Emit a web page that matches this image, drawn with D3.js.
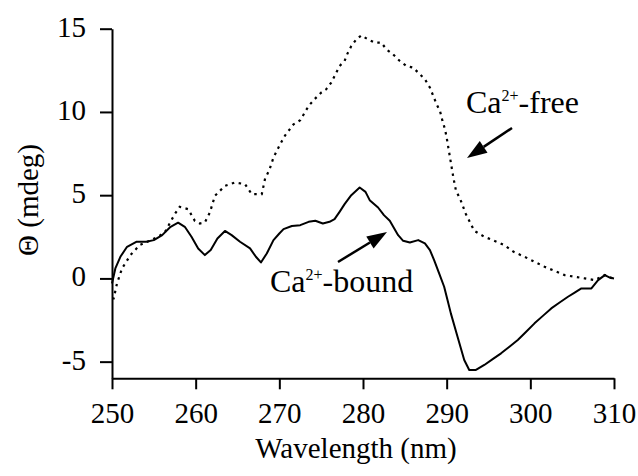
<!DOCTYPE html>
<html>
<head>
<meta charset="utf-8">
<script src="https://cdn.jsdelivr.net/npm/d3@7"></script>
</head>
<body style="margin:0; background:#fff">
<div id="my_dataviz"></div>
<script>
// CD spectra (wavelength nm, theta mdeg)
var boundNm  = [250.0, 250.4, 251.0, 251.8, 252.9, 254.1, 255.0, 256.0, 257.0, 257.9, 258.7, 259.5, 260.3, 261.1,
                261.8, 262.6, 263.5, 264.3, 265.3, 266.5, 267.2, 267.8, 268.5, 269.3, 270.0, 270.5, 271.5, 272.5,
                273.5, 274.3, 275.2, 276.0, 276.6, 277.2, 277.8, 278.6, 279.6, 280.3, 280.8, 281.8, 282.5, 283.2,
                284.2, 284.8, 285.6, 286.6, 287.4, 288.0, 288.5, 289.1, 289.7, 290.1, 290.5, 291.3, 292.1, 292.7,
                293.5, 294.5, 295.5, 296.5, 297.5, 298.5, 299.5, 300.5, 301.5, 302.5, 303.5, 304.5, 305.3, 306.1,
                307.3, 308.1, 308.9, 309.5, 310.0];
var boundVal = [-0.3, 0.6, 1.3, 1.9, 2.2, 2.2, 2.3, 2.6, 3.1, 3.35, 3.1, 2.5, 1.8, 1.4,
                1.7, 2.4, 2.85, 2.6, 2.2, 1.8, 1.3, 0.96, 1.5, 2.3, 2.7, 2.96, 3.15, 3.2,
                3.4, 3.46, 3.3, 3.4, 3.56, 4.0, 4.46, 5.0, 5.46, 5.2, 4.7, 4.26, 3.8, 3.46,
                2.6, 2.26, 2.16, 2.3, 2.1, 1.7, 1.1, 0.3, -0.5, -1.3, -2.1, -3.5, -4.9, -5.5,
                -5.5, -5.2, -4.85, -4.5, -4.1, -3.7, -3.2, -2.7, -2.25, -1.8, -1.45, -1.1, -0.85, -0.6,
                -0.6, -0.1, 0.2, 0.05, 0.0];

var freeNm  = [250.0, 250.2, 250.6, 251.2, 252.2, 253.3, 254.5, 255.5, 256.3, 257.0, 257.5, 258.1, 259.1, 259.9,
               260.5, 261.1, 261.7, 262.3, 263.5, 264.7, 265.9, 266.7, 267.9, 268.3, 268.8, 269.3, 270.1, 270.7,
               271.7, 272.5, 273.5, 274.2, 275.0, 275.6, 276.2, 276.8, 277.2, 277.8, 278.1, 278.6, 279.2, 279.8,
               280.6, 281.4, 282.2, 282.8, 283.6, 284.4, 285.2, 286.0, 286.8, 287.4, 288.0, 288.4, 288.8, 289.2,
               289.5, 289.8, 290.0, 290.2, 290.4, 290.6, 290.8, 291.1, 291.7, 292.3, 293.3, 294.5, 295.5, 296.9,
               298.0, 299.3, 300.5, 301.7, 302.9, 304.1, 305.3, 306.5, 307.7, 308.3, 308.9, 309.5, 310.0];
var freeVal = [-1.2, -1.2, -0.3, 0.6, 1.4, 2.0, 2.26, 2.5, 2.76, 3.4, 3.86, 4.3, 4.16, 3.46,
               3.3, 3.36, 3.96, 4.96, 5.56, 5.76, 5.66, 5.06, 5.06, 6.0, 6.5, 7.26, 8.06, 8.6,
               9.26, 9.5, 10.36, 10.76, 11.16, 11.36, 11.76, 12.36, 12.76, 13.06, 13.46, 13.96, 14.36, 14.6,
               14.36, 14.16, 14.16, 13.76, 13.46, 13.06, 12.76, 12.66, 12.26, 11.96, 11.46, 10.96, 10.46, 10.06,
               9.46, 8.96, 8.46, 7.86, 7.26, 6.66, 6.06, 5.3, 4.66, 3.86, 2.86, 2.5, 2.3, 2.0,
               1.6, 1.3, 1.0, 0.7, 0.45, 0.2, 0.1, 0.0, -0.1, 0.05, 0.2, 0.05, 0.0];

var xTicks = [250, 260, 270, 280, 290, 300, 310];
var yTicks = [-5, 0, 5, 10, 15];

var width = 638, height = 476;
var margin = {left: 112, right: 24, top: 28.7, bottom: 97.7};
var font = "Liberation Serif";

var svg = d3.select("#my_dataviz")
    .append("svg")
        .attr("width", width)
        .attr("height", height)
        .attr("font-family", font);

var x = d3.scaleLinear()
    .domain([250, 310])
    .range([margin.left, width - margin.right]);

var y = d3.scaleLinear()
    .domain([-6, 15])
    .range([height - margin.bottom, margin.top]);

// axes
var xAxis = svg.append("g")
    .attr("transform", "translate(0," + y(-6) + ")")
    .call(d3.axisBottom(x).tickValues(xTicks).tickSize(11).tickSizeOuter(0).tickPadding(13)
        .tickFormat(d3.format("d")));

var yAxis = svg.append("g")
    .attr("transform", "translate(" + x(250) + ",0)")
    .call(d3.axisLeft(y).tickValues(yTicks).tickSize(12).tickSizeOuter(0).tickPadding(14)
        .tickFormat(function(d) { return d < 0 ? "-" + Math.abs(d) : d; }));

[xAxis, yAxis].forEach(function(a) {
    a.attr("font-family", font).attr("font-size", 29);
    a.selectAll("path, line").attr("stroke", "#000").attr("stroke-width", 2);
    a.selectAll("text").attr("fill", "#000").attr("font-family", font).attr("font-size", 29);
});
yAxis.selectAll("text").attr("dy", "0.26em");

// curves
var line = d3.line()
    .x(function(d) { return x(d[0]); })
    .y(function(d) { return y(d[1]); });

var bound = boundNm.map(function(d, i) { return [d, boundVal[i]]; });
var free = freeNm.map(function(d, i) { return [d, freeVal[i]]; });

svg.append("path")
    .datum(free)
    .attr("fill", "none")
    .attr("stroke", "#000")
    .attr("stroke-width", 2.2)
    .attr("stroke-dasharray", "2.5,4.5")
    .attr("d", line);

svg.append("path")
    .datum(bound)
    .attr("fill", "none")
    .attr("stroke", "#000")
    .attr("stroke-width", 2)
    .attr("stroke-linejoin", "round")
    .attr("d", line);

// axis titles
svg.append("text")
    .attr("x", 356)
    .attr("y", 458)
    .attr("text-anchor", "middle")
    .attr("font-family", font)
    .attr("font-size", 29)
    .text("Wavelength (nm)");

svg.append("text")
    .attr("transform", "translate(38,200) rotate(-90)")
    .attr("text-anchor", "middle")
    .attr("font-family", font)
    .attr("font-size", 29)
    .text("\u0398 (mdeg)");

// annotations
function label(tx, ty, tail) {
    var t = svg.append("text")
        .attr("x", tx)
        .attr("y", ty)
        .attr("font-family", font)
        .attr("font-size", 32);
    t.append("tspan").text("Ca");
    t.append("tspan").attr("font-size", 16).attr("dy", -12).text("2+");
    t.append("tspan").attr("dy", 12).text(tail);
}

function arrow(x1, y1, x2, y2) {
    var ang = Math.atan2(y2 - y1, x2 - x1), hl = 20, hw = 7;
    var bx = x2 - hl * Math.cos(ang), by = y2 - hl * Math.sin(ang);
    svg.append("line")
        .attr("x1", x1).attr("y1", y1).attr("x2", bx).attr("y2", by)
        .attr("stroke", "#000").attr("stroke-width", 2.5);
    svg.append("path")
        .attr("d", "M" + x2 + "," + y2 +
            "L" + (bx - hw * Math.sin(ang)) + "," + (by + hw * Math.cos(ang)) +
            "L" + (bx + hw * Math.sin(ang)) + "," + (by - hw * Math.cos(ang)) + "Z")
        .attr("fill", "#000");
}

label(466, 113, "-free");
arrow(512, 128, 467, 158);

label(270, 292, "-bound");
arrow(338, 262, 387, 232);
</script>
</body>
</html>
